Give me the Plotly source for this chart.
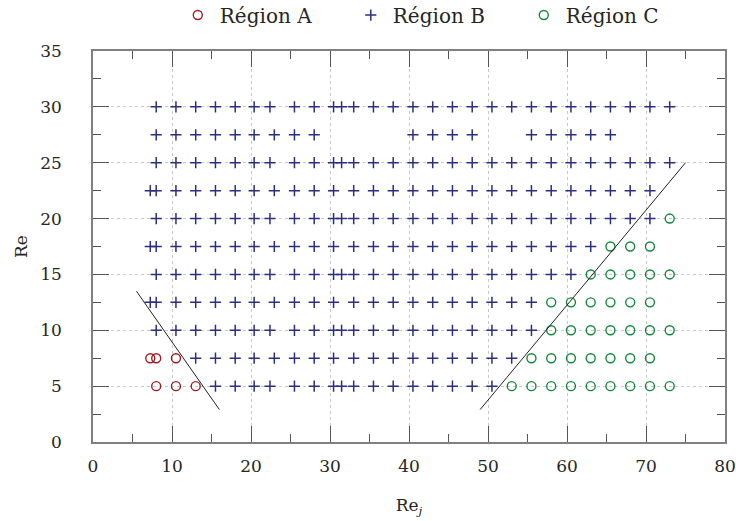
import plotly.graph_objects as go

# ---- data ----
left_grid = [8.0, 10.5, 13.0, 15.5, 18.0, 20.4, 22.4, 25.5, 28.0]
left_half = [8.0, 10.5, 13.0, 15.5, 18.0, 20.4, 22.95, 25.5, 28.0]
mid_grid = [30.45, 31.47, 33.0, 35.5, 38.0, 40.5, 43.0, 45.5, 48.0]
mid_half = [30.45, 33.0, 35.5, 38.0, 40.5, 43.0, 45.5, 48.0]

b_rej_re5 = [15.5, 18.0, 20.4, 22.4, 25.5, 28.0] + mid_grid + [50.5]
b_rej_re7_5 = [13.0, 15.5, 18.0, 20.4, 22.95, 25.5, 28.0] + mid_half + [50.5, 53.0]
b_rej_re10 = left_grid + mid_grid + [50.5, 53.0, 55.5]
b_rej_re12_5 = [7.25] + left_half + mid_half + [50.5, 53.0, 55.5]
b_rej_re15 = left_grid + mid_grid + [50.5, 53.0, 55.5, 58.0, 60.5]
b_rej_re17_5 = [7.25] + left_half + mid_half + [50.5, 53.0, 55.5, 58.0, 60.5, 63.0]
b_rej_re20 = left_grid + mid_grid + [50.5, 53.0, 55.5, 58.0, 60.5, 63.0, 65.5, 68.0, 70.5]
b_rej_re22_5 = [7.25] + left_half + mid_half + [50.5, 53.0, 55.5, 58.0, 60.5, 63.0, 65.5, 68.0, 70.5]
b_rej_re25 = left_grid + mid_grid + [50.5, 53.0, 55.5, 58.0, 60.5, 63.0, 65.5, 68.0, 70.5, 73.0]
b_rej_re27_5 = left_half + [40.5, 43.0, 45.5, 48.0] + [55.5, 58.0, 60.5, 63.0, 65.5]
b_rej_re30 = left_grid + mid_grid + [50.5, 53.0, 55.5, 58.0, 60.5, 63.0, 65.5, 68.0, 70.5, 73.0]

b_rows = [(5, b_rej_re5), (7.5, b_rej_re7_5), (10, b_rej_re10), (12.5, b_rej_re12_5),
          (15, b_rej_re15), (17.5, b_rej_re17_5), (20, b_rej_re20), (22.5, b_rej_re22_5),
          (25, b_rej_re25), (27.5, b_rej_re27_5), (30, b_rej_re30)]

a_rej_re5 = [8.0, 10.5, 13.0]
a_rej_re7_5 = [7.25, 8.0, 10.5]
a_rows = [(5, a_rej_re5), (7.5, a_rej_re7_5)]

c_rej_re5 = [53.0, 55.5, 58.0, 60.5, 63.0, 65.5, 68.0, 70.5, 73.0]
c_rej_re7_5 = [55.5, 58.0, 60.5, 63.0, 65.5, 68.0, 70.5]
c_rej_re10 = [58.0, 60.5, 63.0, 65.5, 68.0, 70.5, 73.0]
c_rej_re12_5 = [58.0, 60.5, 63.0, 65.5, 68.0, 70.5]
c_rej_re15 = [63.0, 65.5, 68.0, 70.5, 73.0]
c_rej_re17_5 = [65.5, 68.0, 70.5]
c_rej_re20 = [73.0]
c_rows = [(5, c_rej_re5), (7.5, c_rej_re7_5), (10, c_rej_re10), (12.5, c_rej_re12_5),
          (15, c_rej_re15), (17.5, c_rej_re17_5), (20, c_rej_re20)]

boundary_left_x = [5.5, 16.0]
boundary_left_y = [13.5, 2.9]
boundary_right_x = [49.0, 75.0]
boundary_right_y = [2.9, 25.0]


def flatten(rows):
    xs, ys = [], []
    for re, rejs in rows:
        for rj in rejs:
            xs.append(rj)
            ys.append(re)
    return xs, ys


ax_, ay_ = flatten(a_rows)
bx_, by_ = flatten(b_rows)
cx_, cy_ = flatten(c_rows)

col_a = "#a01c22"
col_b = "#2c2f80"
col_c = "#14883c"
FONT = "DejaVu Serif"
TXT = "#262626"
FS = 17

fig = go.Figure()
fig.add_trace(go.Scatter(x=ax_, y=ay_, mode="markers", name="Région A",
                         marker=dict(symbol="circle-open", size=9, color=col_a,
                                     line=dict(width=1.4, color=col_a))))
fig.add_trace(go.Scatter(x=bx_, y=by_, mode="markers", name="Région B",
                         marker=dict(symbol="cross-thin-open", size=8, color=col_b,
                                     line=dict(width=1.5, color=col_b))))
fig.add_trace(go.Scatter(x=cx_, y=cy_, mode="markers", name="Région C",
                         marker=dict(symbol="circle-open", size=9, color=col_c,
                                     line=dict(width=1.4, color=col_c))))
fig.add_trace(go.Scatter(x=boundary_left_x, y=boundary_left_y, mode="lines",
                         line=dict(color="#222222", width=1), showlegend=False,
                         hoverinfo="skip"))
fig.add_trace(go.Scatter(x=boundary_right_x, y=boundary_right_y, mode="lines",
                         line=dict(color="#222222", width=1), showlegend=False,
                         hoverinfo="skip"))

axis_common = dict(
    showline=True, linecolor="#808080", linewidth=1.5, mirror="allticks",
    ticks="inside", ticklen=16, tickwidth=1, tickcolor="#555555",
    showgrid=True, gridcolor="#c8c8c8", griddash="dot", gridwidth=1,
    zeroline=False, automargin=False, ticklabeloverflow="allow",
    tickfont=dict(family=FONT, size=FS, color=TXT),
)

fig.update_xaxes(range=[0, 80], dtick=10, tick0=0, ticklabelstandoff=8,
                 minor=dict(dtick=5, ticklen=8, ticks="inside", tickcolor="#555555", showgrid=False),
                 title=dict(text="Re<sub><i>j</i></sub>", font=dict(family=FONT, size=FS, color=TXT),
                            standoff=24),
                 **axis_common)
fig.update_yaxes(range=[0, 35], dtick=5, tick0=0, ticklabelstandoff=26,
                 minor=dict(dtick=2.5, ticklen=8, ticks="inside", tickcolor="#555555", showgrid=False),
                 title=dict(text="Re", font=dict(family=FONT, size=FS, color=TXT),
                            standoff=8),
                 **axis_common)

fig.update_layout(
    width=736, height=521,
    margin=dict(l=93, r=11, t=51, b=79, autoexpand=False),
    plot_bgcolor="white", paper_bgcolor="white",
    font=dict(family=FONT, size=FS, color=TXT),
    legend=dict(orientation="h", x=0.131, xanchor="left", y=1.092, yanchor="middle",
                font=dict(family=FONT, size=20, color=TXT),
                entrywidth=124, itemwidth=34, bgcolor="rgba(0,0,0,0)"),
    showlegend=True,
)

# remove the default page margin so the figure sits at the window's corner
fig.write_html("out.html", config={"displayModeBar": False},
               post_script="document.body.style.margin='0';")
